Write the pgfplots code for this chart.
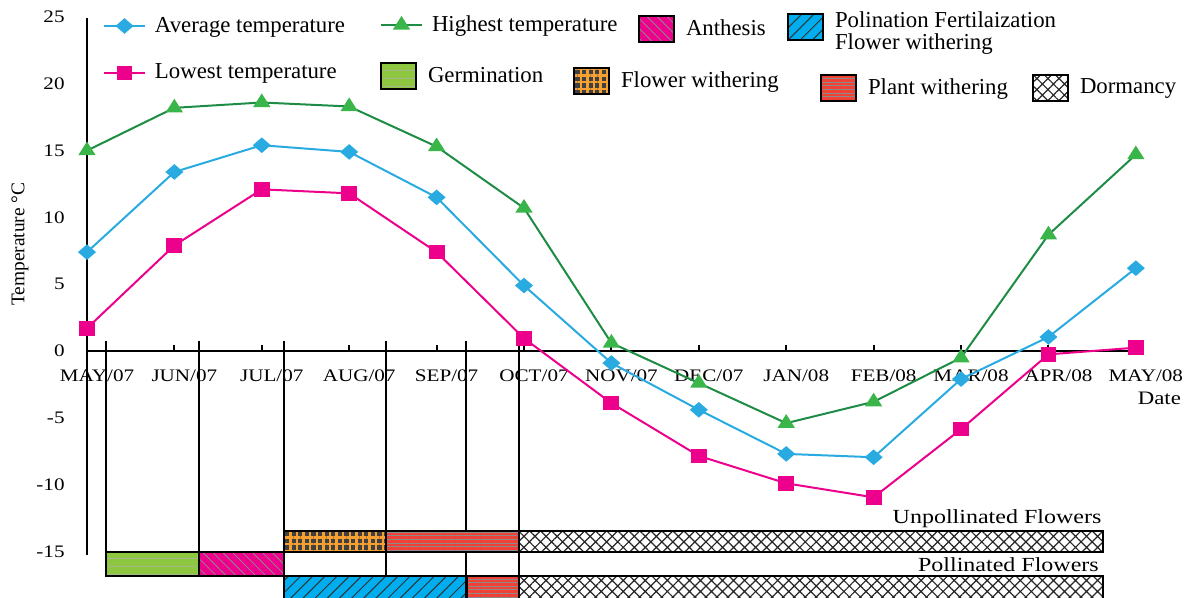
\documentclass[border=0pt]{standalone}
\usepackage{fontspec}
\setmainfont{Liberation Serif}
\newfontfamily\widefont[FakeStretch=1.2]{Liberation Serif}
\usepackage{pgfplots}
\pgfplotsset{compat=1.18}
\usetikzlibrary{patterns.meta}

\definecolor{cAvg}{HTML}{29ABE2}
\definecolor{cHigh}{HTML}{1E8C45}
\definecolor{cHighM}{HTML}{3AB54A}
\definecolor{cLow}{HTML}{EC008C}
\definecolor{cGerm}{HTML}{8DC63F}
\definecolor{cAnth}{HTML}{EC008C}
\definecolor{cPoll}{HTML}{00AEEF}
\definecolor{cFlow}{HTML}{F7A030}
\definecolor{cPlant}{HTML}{EF4136}

\tikzset{
  germ/.style={draw=black, fill=cGerm, postaction={pattern={Lines[angle=0,distance=4pt,line width=0.4pt]}, pattern color=gray!60}},
  anth/.style={draw=black, fill=cAnth, postaction={pattern={Lines[angle=-45,distance=3.5pt,line width=0.4pt]}, pattern color=black!45}},
  poll/.style={draw=black, fill=cPoll, postaction={pattern={Lines[angle=45,distance=4.3pt,line width=0.5pt]}, pattern color=black!80}},
  floww/.style={draw=black, fill=black!75, postaction={pattern={Hatch[angle=0,distance=3.3pt,line width=1.2pt]}, pattern color=cFlow}},
  plantw/.style={draw=black, fill=cPlant, postaction={pattern={Lines[angle=0,distance=1.8pt,line width=0.45pt]}, pattern color=black!45}},
  dorm/.style={draw=black, fill=white, postaction={pattern={Hatch[angle=45,distance=3.9pt,line width=0.6pt]}, pattern color=black!85}},
}

\pgfplotsset{
  base/.style={scale only axis, width=593pt, height=298.5pt,
    xmin=-0.995, xmax=12.574, ymin=-18.41, ymax=26.27},
  legax/.style={base, hide axis, legend cell align=left,
    legend style={draw=none, fill=none, inner sep=0pt, outer sep=0pt, anchor=west,
      font=\fontsize{11.4}{13}\selectfont, column sep=4.5pt, nodes={inner sep=0pt}}},
  linelegend/.style={legend image code/.code={%
    \draw[mark repeat=2, mark phase=2, ##1] plot coordinates {(0pt,0pt) (10.25pt,0pt) (20.5pt,0pt)};}},
  boxlegend/.style={legend style={column sep=5.5pt},
    legend image code/.code={\draw[line width=1pt, ##1] (0pt,-6.5pt) rectangle (17.5pt,6.5pt);}},
}

\newcommand{\legentry}[5]{%
  \begin{axis}[legax, #3, legend style={at={({#1/1186},{1-#2/597})}}]
    \addlegendimage{#4}
    \addlegendentry{#5}
  \end{axis}}

\begin{document}
\begin{tikzpicture}
\begin{axis}[base,
  axis x line=middle, axis y line=middle,
  axis line style={draw=none},
  hide obscured x ticks=false, hide obscured y ticks=false,
  xtick={0,...,12},
  xticklabels={MAY/07,JUN/07,JUL/07,AUG/07,SEP/07,OCT/07,NOV/07,DEC/07,JAN/08,FEB/08,MAR/08,APR/08,MAY/08},
  ytick={-15,-10,...,25},
  major tick length=0pt,
  tick style={draw=none},
  xticklabel style={font=\widefont\fontsize{8.8}{10}\selectfont, anchor=base, inner sep=0pt, yshift=-15pt, xshift=5pt},
  yticklabel style={font=\widefont\fontsize{8.8}{10}\selectfont, anchor=east, inner sep=0pt, xshift=-11pt},
  /pgf/number format/assume math mode=true,
]
\coordinate (SW) at (rel axis cs:0,0);
\coordinate (NE) at (rel axis cs:1,1);

% stage boundary lines (behind the bars)
\addplot[black, line width=1pt] coordinates {(0.217,0.77) (0.217,-16.84)};
\addplot[black, line width=1pt] coordinates {(1.281,0.77) (1.281,-16.84)};
\addplot[black, line width=1pt] coordinates {(2.254,0.77) (2.254,-19.6)};
\addplot[black, line width=1pt] coordinates {(3.421,0.77) (3.421,-16.84)};
\addplot[black, line width=1pt] coordinates {(4.34,0.77) (4.34,-19.6)};
\addplot[black, line width=1pt] coordinates {(4.943,0.77) (4.943,-19.6)};

% phenology bars
\addplot[floww, line width=1.2pt] coordinates {(2.254,-13.47) (3.421,-13.47) (3.421,-15.04) (2.254,-15.04)} -- cycle;
\addplot[plantw, line width=1.2pt] coordinates {(3.421,-13.47) (4.943,-13.47) (4.943,-15.04) (3.421,-15.04)} -- cycle;
\addplot[dorm, line width=1.2pt] coordinates {(4.943,-13.47) (11.625,-13.47) (11.625,-15.04) (4.943,-15.04)} -- cycle;
\addplot[germ, line width=1.2pt] coordinates {(0.217,-15.04) (1.281,-15.04) (1.281,-16.84) (0.217,-16.84)} -- cycle;
\addplot[anth, line width=1.2pt] coordinates {(1.281,-15.04) (2.254,-15.04) (2.254,-16.84) (1.281,-16.84)} -- cycle;
\addplot[poll, line width=1.2pt] coordinates {(2.254,-16.84) (4.34,-16.84) (4.34,-19.6) (2.254,-19.6)} -- cycle;
\addplot[plantw, line width=1.2pt] coordinates {(4.34,-16.84) (4.943,-16.84) (4.943,-19.6) (4.34,-19.6)} -- cycle;
\addplot[dorm, line width=1.2pt] coordinates {(4.943,-16.84) (11.625,-16.84) (11.625,-19.6) (4.943,-19.6)} -- cycle;

% axes
\draw[line width=1.3pt] (axis cs:0,-15.27) -- (axis cs:0,24.9);
\draw[line width=1.3pt] (axis cs:0,0) -- (axis cs:12.06,0);
\pgfplotsinvokeforeach{1,...,12}{\draw[line width=1pt] (axis cs:#1,0) -- (axis cs:#1,0.45);}

% temperatures
\addplot[cHigh, line width=1pt, mark=triangle*, mark size=3.6pt,
  mark options={fill=cHighM, draw=cHighM, xscale=1.1}]
  coordinates {(0,15.0) (1,18.2) (2,18.6) (3,18.3) (4,15.3) (5,10.7) (6,0.6) (7,-2.4) (8,-5.4) (9,-3.8) (10,-0.5) (11,8.7) (12,14.7)};
\addplot[cAvg, line width=1pt, mark=square*, mark size=2.3pt,
  mark options={fill=cAvg, draw=cAvg, xscale=1.15, rotate=45}]
  coordinates {(0,7.4) (1,13.4) (2,15.4) (3,14.9) (4,11.5) (5,4.9) (6,-0.9) (7,-4.4) (8,-7.7) (9,-7.95) (10,-2.1) (11,1.05) (12,6.2)};
\addplot[cLow, line width=1pt, mark=square*, mark size=3.1pt,
  mark options={fill=cLow, draw=cLow, xscale=1.12}]
  coordinates {(0,1.7) (1,7.9) (2,12.1) (3,11.8) (4,7.4) (5,0.95) (6,-3.9) (7,-7.85) (8,-9.9) (9,-10.95) (10,-5.85) (11,-0.25) (12,0.25)};

% texts
\node[font=\fontsize{9.7}{11}\selectfont, rotate=90] at (axis cs:-0.767,8.0) {Temperature °C};
\node[font=\widefont\fontsize{9.5}{11}\selectfont, anchor=east, inner sep=0pt] at (axis cs:12.52,-3.52) {Date};
\node[font=\widefont\fontsize{10}{12}\selectfont, anchor=east, inner sep=0pt] at (axis cs:11.61,-12.57) {Unpollinated Flowers};
\node[font=\widefont\fontsize{10}{12}\selectfont, anchor=east, inner sep=0pt] at (axis cs:11.58,-16.02) {Pollinated Flowers};
\end{axis}

\legentry{103}{26}{linelegend}{cAvg, line width=1pt, mark=square*, mark size=2.3pt, mark options={fill=cAvg, draw=cAvg, xscale=1.15, rotate=45}}{Average temperature}
\legentry{380}{25}{linelegend}{cHigh, line width=1pt, mark=triangle*, mark size=3.6pt, mark options={fill=cHighM, draw=cHighM, xscale=1.1}}{Highest temperature}
\legentry{103}{73}{linelegend}{cLow, line width=1pt, mark=square*, mark size=3.1pt, mark options={fill=cLow, draw=cLow, xscale=1.12}}{Lowest temperature}
\legentry{638}{29}{boxlegend}{anth}{Anthesis}
\legentry{787}{27}{boxlegend}{poll}{\fontsize{11.4}{9.5}\selectfont\begin{tabular}{@{}l@{}}Polination Fertilaization\\Flower withering\end{tabular}}
\legentry{380}{76}{boxlegend}{germ}{Germination}
\legentry{573}{81}{boxlegend}{floww}{Flower withering}
\legentry{820}{88}{boxlegend}{plantw}{Plant withering}
\legentry{1032}{88}{boxlegend}{dorm}{Dormancy}

\pgfresetboundingbox
\path (SW) rectangle (NE);
\end{tikzpicture}
\end{document}
